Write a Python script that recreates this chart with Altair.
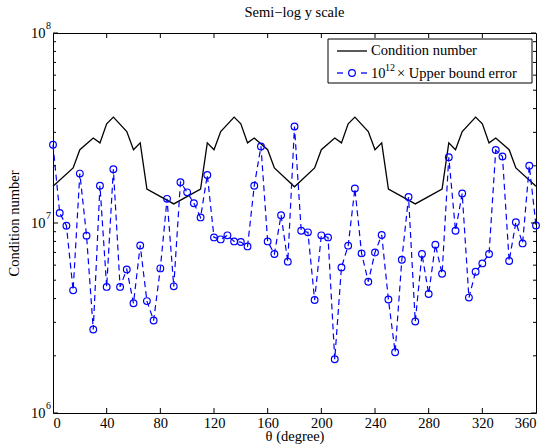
import altair as alt
import pandas as pd

# ---- data ----
theta = list(range(0, 361, 5))
upper_err = [
    2.58e7, 1.13e7, 9.68e6, 4.42e6, 1.82e7, 8.58e6, 2.75e6, 1.57e7, 4.61e6, 1.92e7,
    4.61e6, 5.70e6, 3.78e6, 7.62e6, 3.88e6, 3.07e6, 5.77e6, 1.34e7, 4.64e6, 1.64e7,
    1.45e7, 1.27e7, 1.07e7, 1.79e7, 8.40e6, 8.20e6, 8.61e6, 8.00e6, 7.94e6, 7.53e6,
    1.57e7, 2.53e7, 8.00e6, 6.87e6, 1.10e7, 6.26e6, 3.22e7, 9.11e6, 8.93e6, 3.93e6,
    8.61e6, 8.40e6, 1.92e6, 5.84e6, 7.60e6, 1.52e7, 6.92e6, 4.91e6, 7.00e6, 8.65e6,
    3.96e6, 2.09e6, 6.41e6, 1.37e7, 3.03e6, 6.87e6, 4.23e6, 7.69e6, 5.41e6, 2.22e7,
    9.11e6, 1.43e7, 4.05e6, 5.54e6, 6.13e6, 6.87e6, 2.42e7, 2.24e7, 6.31e6, 1.01e7,
    7.81e6, 2.00e7, 9.71e6,
]
cond_theta = [0, 15, 20, 30, 35, 40, 45, 55, 60, 65, 70, 90,
              110, 115, 120, 125, 135, 140, 145, 150, 160, 165, 180,
              195, 200, 210, 215, 220, 225, 235, 240, 245, 250, 270,
              290, 295, 300, 305, 315, 320, 325, 330, 340, 345, 360]
cond_values = [1.56e7, 1.95e7, 2.43e7, 2.80e7, 2.64e7, 3.33e7, 3.61e7, 3.03e7, 2.43e7, 2.64e7, 1.51e7, 1.26e7,
               1.51e7, 2.64e7, 2.43e7, 3.03e7, 3.61e7, 3.33e7, 2.64e7, 2.80e7, 2.43e7, 1.95e7, 1.55e7,
               1.95e7, 2.43e7, 2.80e7, 2.64e7, 3.33e7, 3.61e7, 3.03e7, 2.43e7, 2.64e7, 1.51e7, 1.26e7,
               1.51e7, 2.64e7, 2.43e7, 3.03e7, 3.61e7, 3.33e7, 2.64e7, 2.80e7, 2.43e7, 1.95e7, 1.56e7]
x_ticks = [0, 40, 80, 120, 160, 200, 240, 280, 320, 360]
y_major = [1e6, 1e7, 1e8]
y_exponents = ["6", "7", "8"]
y_minor = [2e6, 3e6, 4e6, 5e6, 6e6, 7e6, 8e6, 9e6, 2e7, 3e7, 4e7, 5e7, 6e7, 7e7, 8e7, 9e7]
legend_labels = ["Condition number", "10", "12", "\u00d7 Upper bound error"]
title_text = "Semi\u2212log y scale"

FONT = "Liberation Serif"
FS = 14.5
W, H = 483, 380
BLUE = "#0000ff"

err_df = pd.DataFrame({"theta": theta, "value": upper_err})
cond_df = pd.DataFrame({"theta": cond_theta, "value": cond_values})
ymaj_df = pd.DataFrame({"value": y_major, "e": y_exponents})
ymin_df = pd.DataFrame({"value": y_minor})
xt_df = pd.DataFrame({"theta": x_ticks[1:-1]})
one = pd.DataFrame({"k": [0]})

xscale = alt.Scale(domain=[0, 360], nice=False, zero=False)
yscale = alt.Scale(type="log", domain=[1e6, 1e8], nice=False)
axis_style = dict(labelFont=FONT, labelFontSize=FS, labelColor="black",
                  titleFont=FONT, titleFontSize=FS, titleFontWeight="normal", titleColor="black",
                  ticks=False, domain=False, grid=False)
xaxis = alt.Axis(values=x_ticks, title="\u03b8 (degree)", labelPadding=3, titlePadding=0,
                 **axis_style)
yaxis = alt.Axis(values=y_major, labelExpr="'10'", title="Condition number", labelPadding=8,
                 labelBaseline="middle", titlePadding=9, **axis_style)
X = alt.X("theta:Q", scale=xscale, axis=xaxis)
Y = alt.Y("value:Q", scale=yscale, axis=yaxis)

cond_line = alt.Chart(cond_df).mark_line(color="black", strokeWidth=1.3).encode(x=X, y=Y)
err_line = alt.Chart(err_df).mark_line(color=BLUE, strokeWidth=1.2, strokeDash=[6, 4]).encode(x=X, y=Y)
err_pts = alt.Chart(err_df).mark_point(shape="circle", filled=False, color=BLUE, size=45,
                                       strokeWidth=1.2, opacity=1).encode(x=X, y=Y)

# inward ticks (MATLAB style) on all four sides
def yticks(df, length):
    left = alt.Chart(df).mark_rule(color="black", strokeWidth=1).encode(
        y=Y, x=alt.value(0), x2=alt.value(length))
    right = alt.Chart(df).mark_rule(color="black", strokeWidth=1).encode(
        y=Y, x=alt.value(W - length), x2=alt.value(W))
    return [left, right]

xt_bottom = alt.Chart(xt_df).mark_rule(color="black", strokeWidth=1).encode(
    x=X, y=alt.value(H - 5), y2=alt.value(H))
xt_top = alt.Chart(xt_df).mark_rule(color="black", strokeWidth=1).encode(
    x=X, y=alt.value(0), y2=alt.value(5))

y_exp = alt.Chart(ymaj_df).mark_text(font=FONT, fontSize=10, align="left", baseline="middle",
                                     dy=-7, color="black").encode(
    y=Y, x=alt.value(-7), text="e:N")

title_mark = alt.Chart(one).mark_text(text=title_text, font=FONT, fontSize=FS, align="center",
                                      baseline="middle", color="black").encode(
    x=alt.value(W / 2), y=alt.value(-20))

# legend
lx0, lx1 = 275, 479
ly0, ly1 = 6, 50
r1, r2 = 18, 40
leg_box = alt.Chart(one).mark_rect(fill="white", stroke="black", strokeWidth=1).encode(
    x=alt.value(lx0), x2=alt.value(lx1), y=alt.value(ly0), y2=alt.value(ly1))
leg_l1 = alt.Chart(one).mark_rule(color="black", strokeWidth=1.3).encode(
    x=alt.value(284), x2=alt.value(314), y=alt.value(r1))
leg_d1 = alt.Chart(one).mark_rule(color=BLUE, strokeWidth=1.3).encode(
    x=alt.value(284), x2=alt.value(290), y=alt.value(r2))
leg_d2 = alt.Chart(one).mark_rule(color=BLUE, strokeWidth=1.3).encode(
    x=alt.value(308), x2=alt.value(314), y=alt.value(r2))
leg_pt = alt.Chart(one).mark_point(shape="circle", filled=False, color=BLUE, size=45,
                                   strokeWidth=1.2, opacity=1).encode(
    x=alt.value(299), y=alt.value(r2))
txt = dict(font=FONT, fontSize=FS, align="left", baseline="middle", color="black")
leg_t1 = alt.Chart(one).mark_text(text=legend_labels[0], **txt).encode(
    x=alt.value(318), y=alt.value(r1))
leg_t2 = alt.Chart(one).mark_text(text=legend_labels[1], **txt).encode(
    x=alt.value(318), y=alt.value(r2 + 1))
leg_t3 = alt.Chart(one).mark_text(text=legend_labels[2], font=FONT, fontSize=10, align="left",
                                  baseline="middle", color="black").encode(
    x=alt.value(332), y=alt.value(r2 - 5))
leg_t4 = alt.Chart(one).mark_text(text=legend_labels[3], **txt).encode(
    x=alt.value(344), y=alt.value(r2 + 1))

layers = [cond_line, err_line, err_pts] + yticks(ymaj_df, 5) + yticks(ymin_df, 3) + \
         [xt_bottom, xt_top, y_exp, title_mark, leg_box, leg_l1, leg_d1, leg_d2, leg_pt,
          leg_t1, leg_t2, leg_t3, leg_t4]

chart = alt.layer(*layers).properties(
    width=W, height=H,
    autosize=alt.AutoSizeParams(type="none"),
    padding={"left": 53, "top": 33, "right": 10, "bottom": 35},
    background="white",
).configure_view(stroke="black", strokeWidth=1)

chart.save("out.html", embed_options={"renderer": "svg", "actions": False})
